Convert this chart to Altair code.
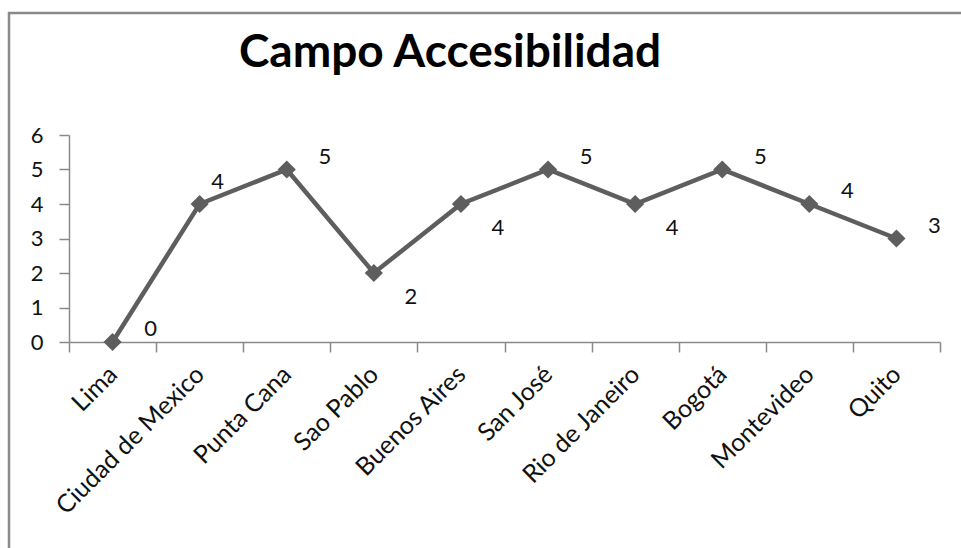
import altair as alt
import pandas as pd

# Accessibility score per city
cities = ["Lima", "Ciudad de Mexico", "Punta Cana", "Sao Pablo", "Buenos Aires",
          "San José", "Rio de Janeiro", "Bogotá", "Montevideo", "Quito"]
scores = [0, 4, 5, 2, 4, 5, 4, 5, 4, 3]
# where each value label sits relative to its marker
label_side = ["upper right", "above", "upper right", "lower right", "lower right",
              "upper right", "lower right", "upper right", "upper right", "upper right"]
y_ticks = [0, 1, 2, 3, 4, 5, 6]
chart_title = "Campo Accesibilidad"

df = pd.DataFrame({"city": cities, "score": scores, "side": label_side})

FONT = "Lato"
SERIES = "#5e5e5e"
AXIS_GRAY = "#8a8a8a"
TEXT = "#111111"

x_enc = alt.X(
    "city:N", sort=cities, title=None,
    scale=alt.Scale(type="band", paddingInner=0, paddingOuter=0),
    axis=alt.Axis(
        tickBand="extent", tickSize=10, tickColor=AXIS_GRAY, tickWidth=1.5,
        domainColor=AXIS_GRAY, domainWidth=1.5, labelAngle=-45,
        labelAlign="right", labelBaseline="middle", labelPadding=18,
        labelFont=FONT, labelFontSize=25, labelColor=TEXT, grid=False,
        labelLimit=0, labelOverlap=False,
    ),
)
y_enc = alt.Y(
    "score:Q", title=None,
    scale=alt.Scale(domain=[0, 6], nice=False),
    axis=alt.Axis(
        values=y_ticks, tickSize=10, tickColor=AXIS_GRAY, tickWidth=1.5,
        domainColor=AXIS_GRAY, domainWidth=1.5, labelPadding=16,
        labelFont=FONT, labelFontSize=22, labelColor=TEXT, grid=False,
        format="d",
    ),
)

base = alt.Chart(df).encode(x=x_enc, y=y_enc)

line = base.mark_line(color=SERIES, strokeWidth=4.5)
points = base.mark_point(shape="diamond", filled=True, size=330, color=SERIES, opacity=1)

def value_labels(side, dx, dy):
    return base.transform_filter(alt.datum.side == side).mark_text(
        font=FONT, fontSize=22, color=TEXT, dx=dx, dy=dy,
        align="center", baseline="middle",
    ).encode(text="score:Q")

labels = (
    value_labels("upper right", 38, -13)
    + value_labels("lower right", 37, 24)
    + value_labels("above", 18, -22)
)

# outer chart frame
frame = alt.Chart(alt.Data(values=[{}])).mark_rect(
    fill=None, stroke=AXIS_GRAY, strokeWidth=2.5
).encode(
    x=alt.value(-60), x2=alt.value(1100),
    y=alt.value(-122), y2=alt.value(700),
)

# chart heading, centred over the chart frame
heading = alt.Chart(alt.Data(values=[{"t": chart_title}])).mark_text(
    font=FONT, fontSize=46, fontWeight="bold", color="#000000",
    align="center", baseline="alphabetic",
).encode(text="t:N", x=alt.value(381), y=alt.value(-68))

chart = alt.layer(frame, heading, line, points, labels).properties(
    width=871,
    height=207,
    autosize=alt.AutoSizeParams(type="none"),
    padding={"left": 69, "top": 135, "right": 21, "bottom": 206},
    background="white",
).configure_view(stroke=None, strokeWidth=0)

chart.save("out.html", embed_options={"renderer": "svg", "actions": False})
